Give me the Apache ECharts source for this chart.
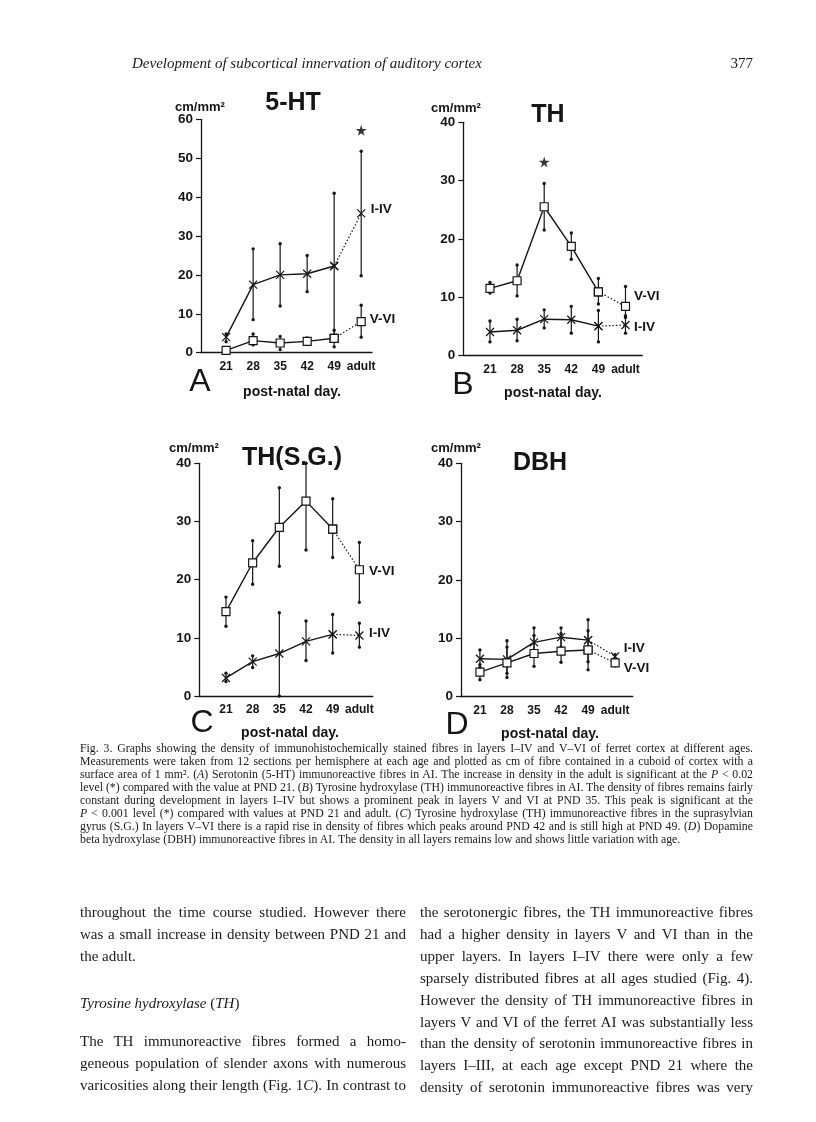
<!DOCTYPE html>
<html>
<head>
<meta charset="utf-8">
<script src="https://cdn.jsdelivr.net/npm/echarts@6/dist/echarts.min.js"></script>
<style>
  html,body{margin:0;padding:0;background:#fff;}
  body{width:816px;height:1122px;position:relative;overflow:hidden;}
  #chart{position:absolute;left:0;top:0;width:816px;height:1122px;}
  .ln{position:absolute;font-family:"Liberation Serif","Times New Roman",serif;color:#1a1a1a;white-space:nowrap;overflow:visible;}
  .j{text-align:justify;text-align-last:justify;}
</style>
</head>
<body>
<div id="chart"></div>
<div id="text"></div>
<script>
// ---------------- DATA ----------------
const categories = ['21', '28', '35', '42', '49', 'adult'];
const seriesNames = ['I-IV', 'V-VI'];

// Panel A: 5-HT
const a_I_IV      = [4.0, 17.5, 20.0, 20.3, 22.3, 35.8];
const a_I_IV_low  = [2.8, 8.5, 12.0, 15.7, 4.0, 19.8];
const a_I_IV_high = [4.8, 26.7, 28.0, 25.0, 41.0, 51.8];
const a_V_VI      = [0.6, 3.1, 2.5, 2.9, 3.7, 8.0];
const a_V_VI_low  = [0.3, 2.0, 0.8, 2.2, 1.5, 4.0];
const a_V_VI_high = [0.9, 4.8, 4.2, 3.8, 5.8, 12.2];
const a_star      = [[5, 57.2]];

// Panel B: TH
const b_V_VI      = [11.5, 12.8, 25.5, 18.7, 10.9, 8.4];
const b_V_VI_low  = [10.7, 10.2, 21.5, 16.5, 8.8, 6.5];
const b_V_VI_high = [12.5, 15.5, 29.5, 21.0, 13.2, 11.8];
const b_I_IV      = [4.0, 4.3, 6.2, 6.1, 5.0, 5.2];
const b_I_IV_low  = [2.3, 2.5, 4.7, 3.8, 2.3, 3.8];
const b_I_IV_high = [5.9, 6.2, 7.8, 8.4, 7.7, 6.8];
const b_star      = [[2, 33.2]];

// Panel C: TH(S.G.)
const c_V_VI      = [14.5, 22.9, 29.0, 33.5, 28.7, 21.7];
const c_V_VI_low  = [12.0, 19.2, 22.3, 25.1, 23.8, 16.1];
const c_V_VI_high = [17.0, 26.7, 35.8, 40.0, 33.9, 26.4];
const c_I_IV      = [3.1, 5.9, 7.3, 9.4, 10.6, 10.4];
const c_I_IV_low  = [2.5, 4.9, 0.0, 6.1, 7.4, 8.4];
const c_I_IV_high = [3.9, 6.9, 14.3, 12.9, 14.0, 12.5];

// Panel D: DBH
const d_I_IV      = [6.5, 6.4, 9.3, 10.2, 9.7, 6.9];
const d_I_IV_low  = [5.0, 4.0, 7.0, 8.5, 6.0, 6.5];
const d_I_IV_high = [8.0, 9.6, 11.8, 11.8, 13.2, 7.2];
const d_V_VI      = [4.2, 5.8, 7.4, 7.8, 8.0, 5.8];
const d_V_VI_low  = [2.9, 3.3, 5.2, 5.9, 4.6, 5.3];
const d_V_VI_high = [5.5, 8.5, 10.5, 10.8, 11.3, 6.3];

// -------------- LAYOUT / STYLE --------------
const INK = '#151515';
const SANS = '"Liberation Sans", Arial, sans-serif';
const SYM_X = 'path://M0 0L10 10M10 0L0 10';
const SYM_STAR = 'path://M50 0L61 35L98 35L68 57L79 91L50 70L21 91L32 57L2 35L39 35Z';

const panels = [
  { title: '5-HT', letter: 'A', grid: {left: 201, top: 119.3, width: 171, height: 233.4}, xMin: -0.93, xMax: 5.4, yMax: 60,
    groups: [
      {name: seriesNames[0], v: a_I_IV, lo: a_I_IV_low, hi: a_I_IV_high, sym: SYM_X, size: 8, off: [5, -4]},
      {name: seriesNames[1], v: a_V_VI, lo: a_V_VI_low, hi: a_V_VI_high, sym: 'rect', size: 8, off: [4, -2]}
    ], star: a_star,
    titlePos: [293, 103], unitPos: [200, 107], letterPos: [200, 382], xlabPos: [292, 392] },
  { title: 'TH', letter: 'B', grid: {left: 463.3, top: 122.3, width: 179, height: 233}, xMin: -0.985, xMax: 5.62, yMax: 40,
    groups: [
      {name: seriesNames[1], v: b_V_VI, lo: b_V_VI_low, hi: b_V_VI_high, sym: 'rect', size: 8, off: [4, -10]},
      {name: seriesNames[0], v: b_I_IV, lo: b_I_IV_low, hi: b_I_IV_high, sym: SYM_X, size: 8, off: [4, 2]}
    ], star: b_star,
    titlePos: [548, 115], unitPos: [456, 108], letterPos: [463, 385], xlabPos: [553, 393] },
  { title: 'TH(S.G.)', letter: 'C', grid: {left: 199.3, top: 463.3, width: 173.4, height: 232.7}, xMin: -1.0, xMax: 5.5, yMax: 40,
    groups: [
      {name: seriesNames[1], v: c_V_VI, lo: c_V_VI_low, hi: c_V_VI_high, sym: 'rect', size: 8, off: [5, 2]},
      {name: seriesNames[0], v: c_I_IV, lo: c_I_IV_low, hi: c_I_IV_high, sym: SYM_X, size: 8, off: [5, -2.5]}
    ], star: [],
    titlePos: [292, 458], unitPos: [194, 448], letterPos: [202, 723], xlabPos: [290, 733] },
  { title: 'DBH', letter: 'D', grid: {left: 461, top: 463.3, width: 171.7, height: 233.4}, xMin: -0.70, xMax: 5.65, yMax: 40,
    groups: [
      {name: seriesNames[0], v: d_I_IV, lo: d_I_IV_low, hi: d_I_IV_high, sym: SYM_X, size: 8, off: [4, -8.5]},
      {name: seriesNames[1], v: d_V_VI, lo: d_V_VI_low, hi: d_V_VI_high, sym: 'rect', size: 8, off: [4, 5]}
    ], star: [],
    titlePos: [540, 463], unitPos: [456, 448], letterPos: [457, 725], xlabPos: [550, 734] }
];

function errRender(params, api) {
  const p1 = api.coord([api.value(0), api.value(1)]);
  const p2 = api.coord([api.value(0), api.value(2)]);
  return {
    type: 'group',
    children: [
      {type: 'line', shape: {x1: p1[0], y1: p1[1], x2: p2[0], y2: p2[1]}, style: {stroke: INK, lineWidth: 1.2}},
      {type: 'circle', shape: {cx: p1[0], cy: p1[1], r: 1.7}, style: {fill: INK}},
      {type: 'circle', shape: {cx: p2[0], cy: p2[1], r: 1.7}, style: {fill: INK}}
    ]
  };
}

const grids = [], xAxes = [], yAxes = [], series = [], graphics = [];

panels.forEach((p, k) => {
  grids.push(Object.assign({containLabel: false, outerBoundsMode: 'none'}, p.grid));
  xAxes.push({
    type: 'value', gridIndex: k, min: p.xMin, max: p.xMax,
    axisLine: {show: true, onZero: false, lineStyle: {color: INK, width: 1.3}},
    axisTick: {show: false}, splitLine: {show: false},
    axisLabel: {customValues: [0, 1, 2, 3, 4, 5], formatter: v => categories[Math.round(v)] || '',
      color: INK, fontFamily: SANS, fontWeight: 'bold', fontSize: 12, margin: 8}
  });
  yAxes.push({
    type: 'value', gridIndex: k, min: 0, max: p.yMax, interval: 10,
    axisLine: {show: true, onZero: false, lineStyle: {color: INK, width: 1.3}},
    axisTick: {show: true, inside: false, length: 5, lineStyle: {color: INK, width: 1.2}},
    splitLine: {show: false},
    axisLabel: {color: INK, fontFamily: SANS, fontWeight: 'bold', fontSize: 13.5, margin: 8}
  });

  p.groups.forEach(g => {
    series.push({
      type: 'custom', xAxisIndex: k, yAxisIndex: k, renderItem: errRender, z: 1,
      encode: {x: 0, y: [1, 2]}, silent: true,
      data: g.v.map((_, i) => [i, g.lo[i], g.hi[i]])
    });
    const itemStyle = {color: '#fff', borderColor: INK, borderWidth: 1.2};
    series.push({
      type: 'line', xAxisIndex: k, yAxisIndex: k, z: 3, silent: true,
      symbol: g.sym, symbolSize: g.size, showAllSymbol: true, itemStyle: itemStyle,
      lineStyle: {color: INK, width: 1.4},
      data: g.v.slice(0, 5).map((v, i) => [i, v])
    });
    series.push({
      type: 'line', xAxisIndex: k, yAxisIndex: k, z: 3, silent: true,
      symbol: g.sym, symbolSize: g.size, showAllSymbol: true, itemStyle: itemStyle,
      lineStyle: {color: INK, width: 1.2, type: [1.5, 2]},
      data: [
        [4, g.v[4]],
        {value: [5, g.v[5]], label: {show: true, position: 'right', distance: 0, offset: g.off,
          formatter: g.name, color: INK, fontFamily: SANS, fontWeight: 'bold', fontSize: 13.5}}
      ]
    });
  });
  if (p.star.length) {
    series.push({
      type: 'scatter', xAxisIndex: k, yAxisIndex: k, silent: true, z: 4,
      symbol: SYM_STAR, symbolSize: 11, itemStyle: {color: '#000'},
      data: p.star
    });
  }

  graphics.push({type: 'text', x: p.titlePos[0], y: p.titlePos[1], silent: true,
    style: {text: p.title, fill: INK, font: 'bold 25px ' + SANS, textAlign: 'center', textVerticalAlign: 'middle'}});
  graphics.push({type: 'text', x: p.unitPos[0], y: p.unitPos[1], silent: true,
    style: {text: 'cm/mm²', fill: INK, font: 'bold 13px ' + SANS, textAlign: 'center', textVerticalAlign: 'middle'}});
  graphics.push({type: 'text', x: p.letterPos[0], y: p.letterPos[1], silent: true,
    style: {text: p.letter, fill: INK, font: '32px ' + SANS, textAlign: 'center', textVerticalAlign: 'middle'}});
  graphics.push({type: 'text', x: p.xlabPos[0], y: p.xlabPos[1], silent: true,
    style: {text: 'post-natal day.', fill: INK, font: 'bold 14px ' + SANS, textAlign: 'center', textVerticalAlign: 'middle'}});
});

const chart = echarts.init(document.getElementById('chart'), null, {renderer: 'canvas'});
chart.setOption({
  animation: false,
  backgroundColor: '#fff',
  grid: grids, xAxis: xAxes, yAxis: yAxes, series: series, graphic: graphics
});

// ---------------- PAGE TEXT ----------------
const header = 'Development of subcortical innervation of auditory cortex';
const pageNo = '377';
const captionLines = [
  'Fig. 3. Graphs showing the density of immunohistochemically stained fibres in layers I–IV and V–VI of ferret cortex at different ages.',
  'Measurements were taken from 12 sections per hemisphere at each age and plotted as cm of fibre contained in a cuboid of cortex with a',
  'surface area of 1 mm². (<i>A</i>) Serotonin (5-HT) immunoreactive fibres in AI. The increase in density in the adult is significant at the <i>P</i> &lt; 0.02',
  'level (*) compared with the value at PND 21. (<i>B</i>) Tyrosine hydroxylase (TH) immunoreactive fibres in AI. The density of fibres remains fairly',
  'constant during development in layers I–IV but shows a prominent peak in layers V and VI at PND 35. This peak is significant at the',
  '<i>P</i> &lt; 0.001 level (*) compared with values at PND 21 and adult. (<i>C</i>) Tyrosine hydroxylase (TH) immunoreactive fibres in the suprasylvian',
  'gyrus (S.G.) In layers V–VI there is a rapid rise in density of fibres which peaks around PND 42 and is still high at PND 49. (<i>D</i>) Dopamine',
  'beta hydroxylase (DBH) immunoreactive fibres in AI. The density in all layers remains low and shows little variation with age.'
];
const leftCol = [
  ['throughout the time course studied. However there', 912, true],
  ['was a small increase in density between PND 21 and', 934, true],
  ['the adult.', 956, false],
  ['<i>Tyrosine hydroxylase</i> (<i>TH</i>)', 1003, false],
  ['The TH immunoreactive fibres formed a homo-', 1041, true],
  ['geneous population of slender axons with numerous', 1063, true],
  ['varicosities along their length (Fig. 1<i>C</i>). In contrast to', 1085, true]
];
const rightCol = [
  ['the serotonergic fibres, the TH immunoreactive fibres', 912, true],
  ['had a higher density in layers V and VI than in the', 934, true],
  ['upper layers. In layers I–IV there were only a few', 956, true],
  ['sparsely distributed fibres at all ages studied (Fig. 4).', 978, true],
  ['However the density of TH immunoreactive fibres in', 1000, true],
  ['layers V and VI of the ferret AI was substantially less', 1022, true],
  ['than the density of serotonin immunoreactive fibres in', 1043, true],
  ['layers I–III, at each age except PND 21 where the', 1065, true],
  ['density of serotonin immunoreactive fibres was very', 1087, true]
];

const box = document.getElementById('text');
function addLine(html, x, yc, w, fs, justify, extra) {
  const d = document.createElement('div');
  d.className = 'ln' + (justify ? ' j' : '');
  const lh = Math.round(fs * 1.3);
  if (x !== null) d.style.left = x + 'px';
  d.style.top = (yc - lh / 2) + 'px';
  if (w) d.style.width = w + 'px';
  d.style.fontSize = fs + 'px';
  d.style.lineHeight = lh + 'px';
  if (extra) Object.assign(d.style, extra);
  d.innerHTML = html;
  box.appendChild(d);
}
addLine(header, 132, 63, null, 15, false, {fontStyle: 'italic'});
addLine(pageNo, null, 63, null, 15, false, {right: '63px'});
captionLines.forEach((t, i) => addLine(t, 80, 748 + i * 13, 673, 11.8, i < captionLines.length - 1));
leftCol.forEach(r => addLine(r[0], 80, r[1], 326, 15, r[2]));
rightCol.forEach(r => addLine(r[0], 420, r[1], 333, 15, r[2]));
</script>
</body>
</html>
